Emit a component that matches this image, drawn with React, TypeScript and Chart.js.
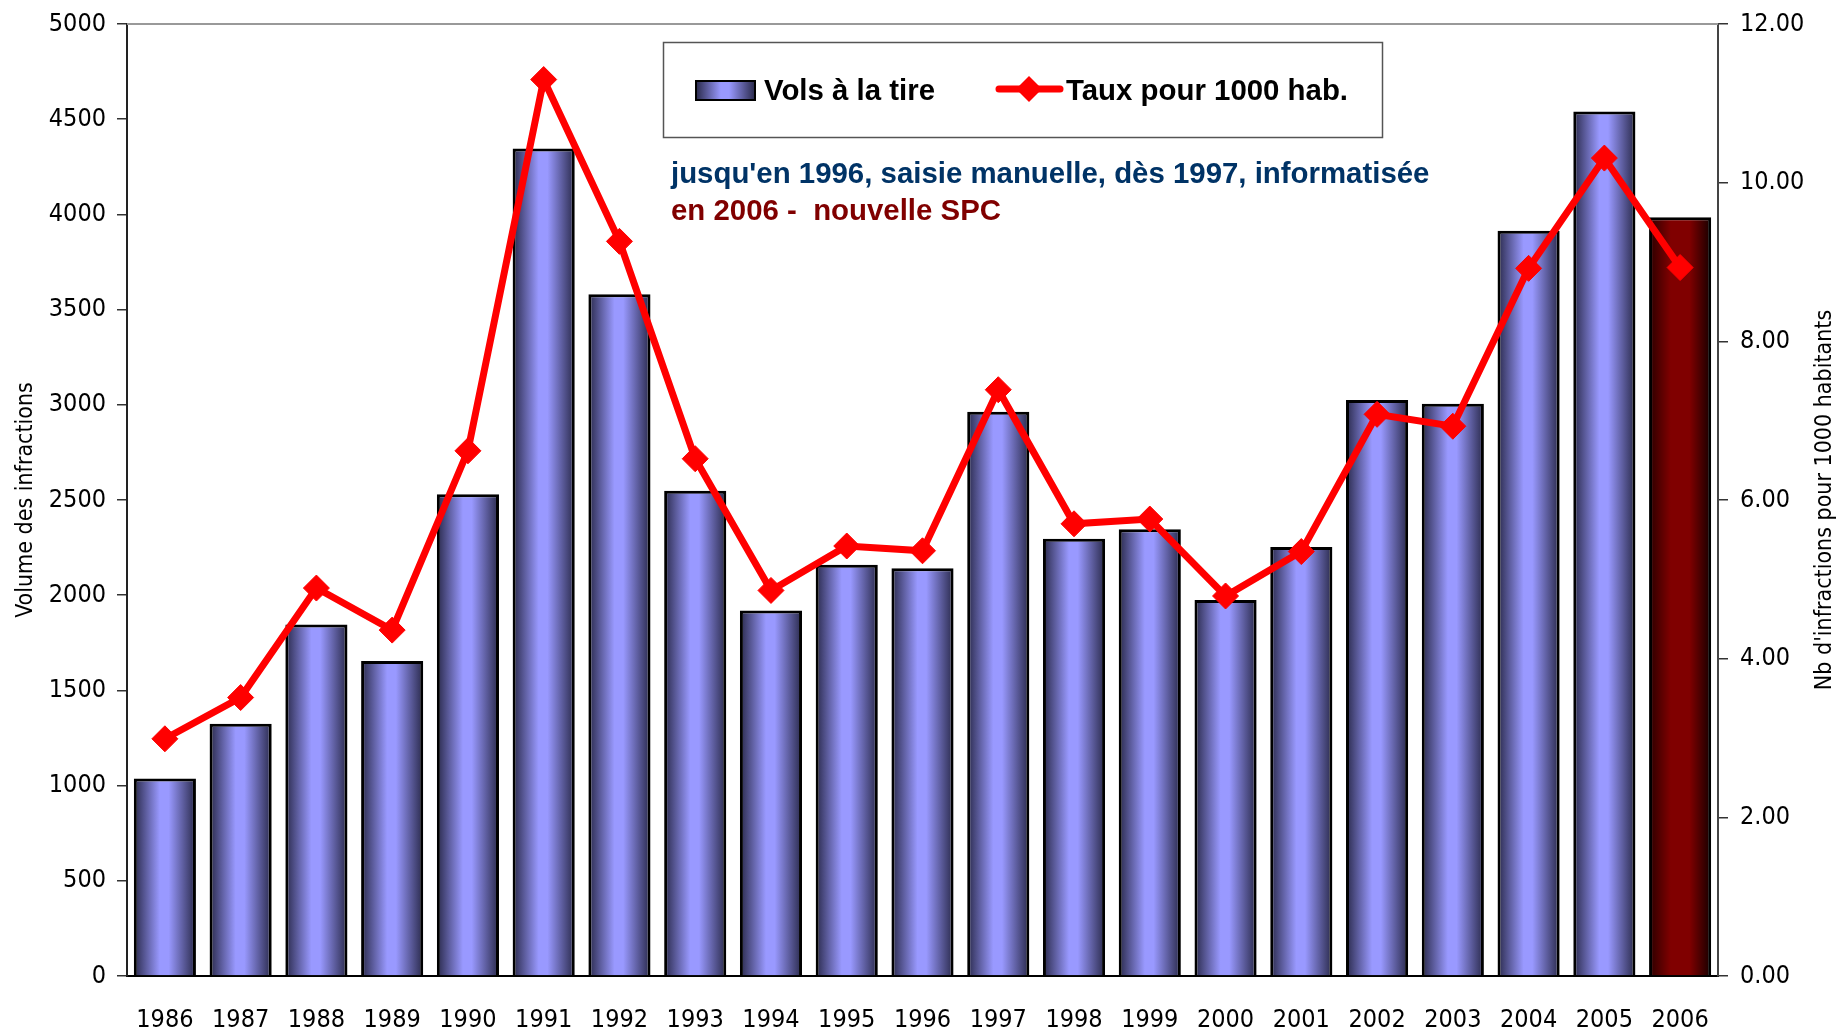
import React, { useEffect, useRef } from "react";
import { Chart, registerables } from "chart.js";

Chart.register(...registerables);

// ---- data ----
const years = ["1986","1987","1988","1989","1990","1991","1992","1993","1994","1995","1996","1997","1998","1999","2000","2001","2002","2003","2004","2005","2006"];
const volsALaTire = [1037,1325,1846,1654,2530,4346,3580,2548,1920,2160,2142,2963,2296,2346,1975,2253,3025,3006,3914,4540,3985];
const tauxPour1000 = [2.99,3.51,4.89,4.36,6.62,11.30,9.26,6.52,4.86,5.42,5.36,7.39,5.70,5.76,4.79,5.35,7.08,6.93,8.92,10.31,8.93];
const newSystemYears = ["2006"];
const leftTicks = [0,500,1000,1500,2000,2500,3000,3500,4000,4500,5000];
const rightTicks = [0,2,4,6,8,10,12];

const barLabel = "Vols à la tire";
const lineLabel = "Taux pour 1000 hab.";
const leftTitle = "Volume des infractions";
const rightTitle = "Nb d'infractions pour 1000 habitants";
const note1 = "jusqu'en 1996, saisie manuelle, dès 1997, informatisée";
const note2 = "en 2006 -  nouvelle SPC";

const NARROW = '"Liberation Sans Narrow", "Arial Narrow", "DejaVu Sans Condensed", sans-serif';
const BOLD = '"Liberation Sans", Arial, sans-serif';
const BAR_PCT = 0.82;

function blueGrad(g: CanvasGradient) {
  g.addColorStop(0, "#29294a");
  g.addColorStop(0.42, "#9999ff");
  g.addColorStop(0.56, "#9999ff");
  g.addColorStop(1, "#29294a");
  return g;
}
function redGrad(g: CanvasGradient) {
  g.addColorStop(0, "#2a0000");
  g.addColorStop(0.35, "#800000");
  g.addColorStop(0.65, "#800000");
  g.addColorStop(1, "#160000");
  return g;
}

const overlayPlugin = {
  id: "overlay",
  afterDraw(chart: any) {
    const { ctx, chartArea } = chart;
    ctx.save();
    // top border line of plot area
    ctx.strokeStyle = "#999999";
    ctx.lineWidth = 2;
    ctx.beginPath();
    ctx.moveTo(chartArea.left, chartArea.top);
    ctx.lineTo(chartArea.right, chartArea.top);
    ctx.stroke();

    // legend box
    ctx.fillStyle = "#ffffff";
    ctx.fillRect(663, 42, 719, 95);
    ctx.strokeStyle = "#555555";
    ctx.lineWidth = 1.5;
    ctx.strokeRect(663.5, 42.5, 719, 95);

    // bar swatch
    const g = blueGrad(ctx.createLinearGradient(696, 0, 755, 0));
    ctx.fillStyle = g;
    ctx.fillRect(696, 81, 59, 19);
    ctx.strokeStyle = "#000000";
    ctx.lineWidth = 2;
    ctx.strokeRect(696, 81, 59, 19);

    ctx.fillStyle = "#000000";
    ctx.font = `bold 29.4px ${BOLD}`;
    ctx.textBaseline = "middle";
    ctx.textAlign = "left";
    ctx.fillText(barLabel, 764, 92);

    // line swatch
    ctx.strokeStyle = "#ff0000";
    ctx.lineWidth = 7;
    ctx.lineCap = "round";
    ctx.beginPath();
    ctx.moveTo(999, 89);
    ctx.lineTo(1060, 89);
    ctx.stroke();
    ctx.fillStyle = "#ff0000";
    ctx.beginPath();
    ctx.moveTo(1029, 76);
    ctx.lineTo(1042, 89);
    ctx.lineTo(1029, 102);
    ctx.lineTo(1016, 89);
    ctx.closePath();
    ctx.fill();

    ctx.fillStyle = "#000000";
    ctx.fillText(lineLabel, 1066, 92);

    // notes
    ctx.fillStyle = "#003366";
    ctx.fillText(note1, 671, 175);
    ctx.fillStyle = "#800000";
    ctx.fillText(note2, 671, 212);

    // right axis title (reads bottom to top)
    ctx.translate(1825, (chartArea.top + chartArea.bottom) / 2);
    ctx.rotate(-Math.PI / 2);
    ctx.fillStyle = "#000000";
    ctx.font = `23px ${NARROW}`;
    ctx.textAlign = "center";
    ctx.fillText(rightTitle, 0, 0);
    ctx.restore();
  },
};

export default function App() {
  const ref = useRef<HTMLCanvasElement | null>(null);

  useEffect(() => {
    if (!ref.current) return;
    const barColor = (c: any) => {
      const chart = c.chart;
      const xs = chart.scales && chart.scales.x;
      const isNew = c.type === "data" && newSystemYears.includes(years[c.dataIndex]);
      if (!chart.chartArea || !xs || c.type !== "data") return isNew ? "#800000" : "#9999ff";
      const cx = xs.getPixelForValue(c.dataIndex);
      const w = (xs.width / years.length) * BAR_PCT;
      const g = chart.ctx.createLinearGradient(cx - w / 2, 0, cx + w / 2, 0);
      return isNew ? redGrad(g) : blueGrad(g);
    };

    const chart = new Chart(ref.current, {
      type: "bar",
      data: {
        labels: years,
        datasets: [
          {
            type: "line",
            label: lineLabel,
            data: tauxPour1000,
            yAxisID: "y2",
            borderColor: "#ff0000",
            backgroundColor: "#ff0000",
            borderWidth: 7,
            tension: 0,
            pointStyle: "rectRot",
            pointRadius: 13,
            pointBackgroundColor: "#ff0000",
            pointBorderColor: "#ff0000",
            pointBorderWidth: 1,
            order: 0,
          } as any,
          {
            type: "bar",
            label: barLabel,
            data: volsALaTire,
            yAxisID: "y",
            backgroundColor: barColor,
            borderColor: "#000000",
            borderWidth: 3,
            barPercentage: BAR_PCT,
            categoryPercentage: 1,
            order: 1,
          } as any,
        ],
      },
      options: {
        animation: false,
        responsive: false,
        devicePixelRatio: 1,
        layout: { padding: { top: 24, left: 0, right: 0, bottom: 0 } },
        plugins: { legend: { display: false }, tooltip: { enabled: false } },
        scales: {
          x: {
            grid: { display: false, drawTicks: false },
            border: { display: true, color: "#000000", width: 2 },
            ticks: { color: "#000000", font: { family: NARROW, size: 25 }, padding: 29, maxRotation: 0, autoSkip: false },
            afterFit: (s: any) => { s.height = 58; s.paddingLeft = 0; s.paddingRight = 0; },
          },
          y: {
            position: "left",
            min: 0,
            max: 5000,
            afterBuildTicks: (s: any) => { s.ticks = leftTicks.map((v) => ({ value: v })); },
            grid: { drawOnChartArea: false, drawTicks: true, tickLength: 10, color: "#333333", lineWidth: 1.5 },
            border: { display: true, color: "#222222", width: 2 },
            ticks: { color: "#000000", font: { family: NARROW, size: 25 }, padding: 11, callback: (v: any) => String(v) },
            title: { display: true, text: leftTitle, color: "#000000", font: { family: NARROW, size: 23 }, padding: { top: 12, bottom: 0 } },
            afterFit: (s: any) => { s.width = 127; s.paddingTop = 0; s.paddingBottom = 0; },
          },
          y2: {
            position: "right",
            min: 0,
            max: 12,
            afterBuildTicks: (s: any) => { s.ticks = rightTicks.map((v) => ({ value: v })); },
            grid: { drawOnChartArea: false, drawTicks: true, tickLength: 10, color: "#333333", lineWidth: 1.5 },
            border: { display: true, color: "#444444", width: 2 },
            ticks: { color: "#000000", font: { family: NARROW, size: 25 }, padding: 12, callback: (v: any) => Number(v).toFixed(2) },
            afterFit: (s: any) => { s.width = 125; s.paddingTop = 0; s.paddingBottom = 0; },
          },
        },
      },
      plugins: [overlayPlugin],
    } as any);
    return () => chart.destroy();
  }, []);

  return (
    <div style={{ position: "fixed", left: 0, top: 0, width: 1843, height: 1034, background: "#ffffff" }}>
      <canvas ref={ref} width={1843} height={1034} style={{ display: "block" }} />
    </div>
  );
}
